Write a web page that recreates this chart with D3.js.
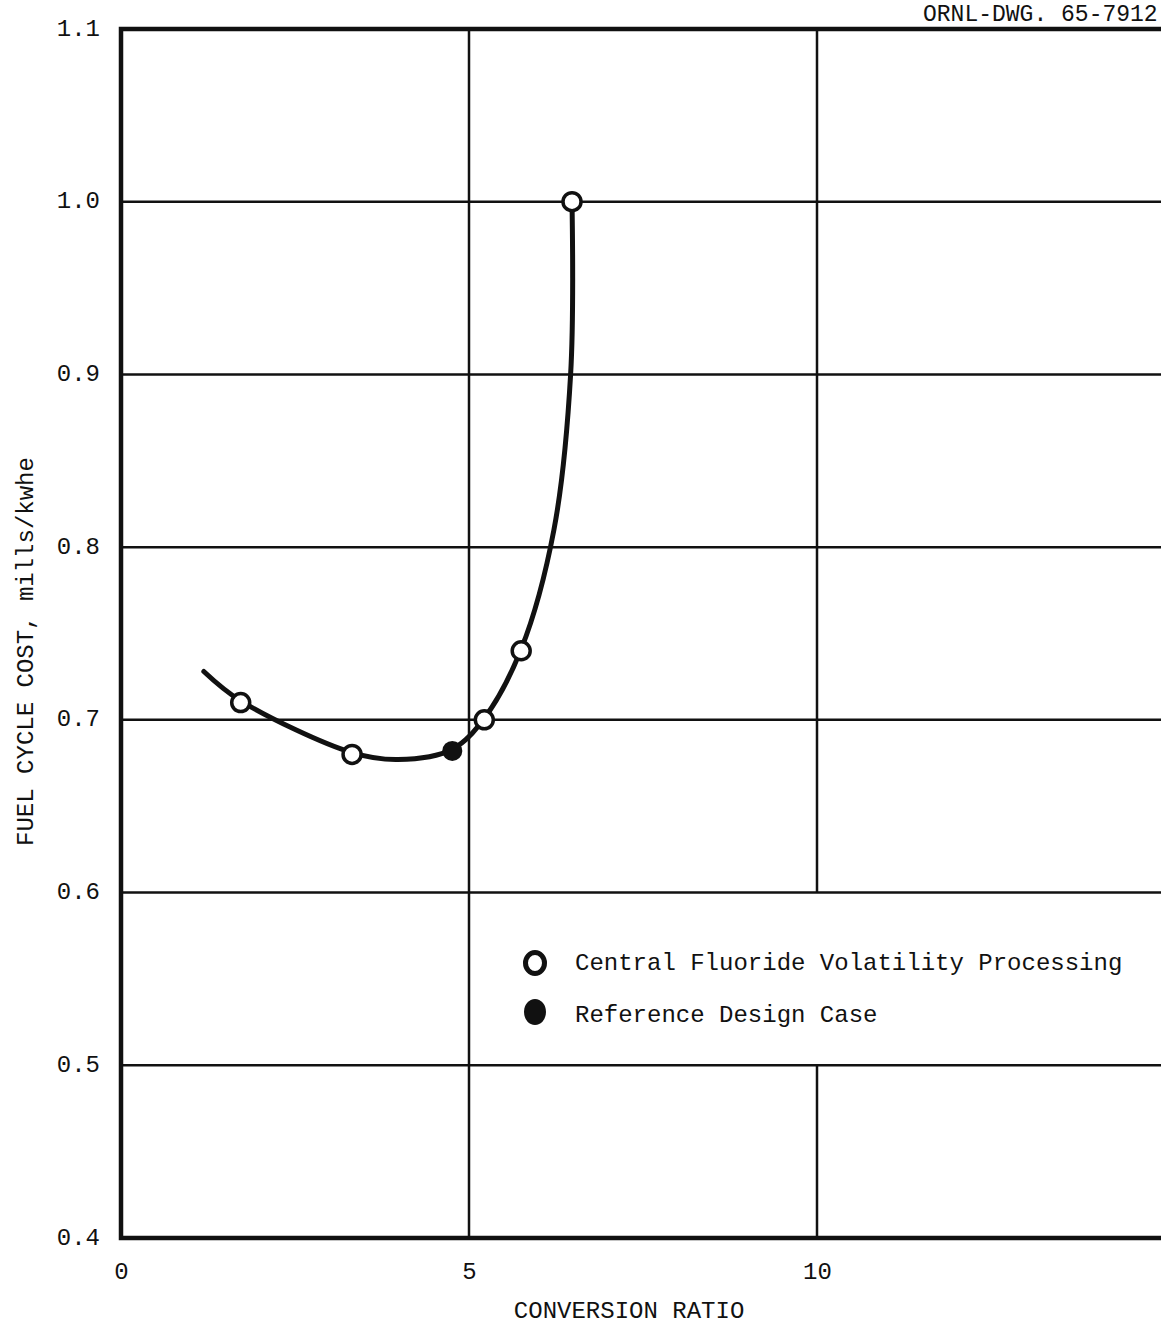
<!DOCTYPE html>
<html>
<head>
<meta charset="utf-8">
<script src="https://cdn.jsdelivr.net/npm/d3@7"></script>
<style>
  body { margin: 0; background: #fff; }
  text { font-family: "Liberation Mono", "DejaVu Sans Mono", monospace; fill: #111; }
</style>
</head>
<body>
<div id="chart"></div>
<script>
/* data */
var curveX = [1.19, 1.72, 3.32, 3.98, 4.76, 5.22, 5.75, 6.22, 6.46, 6.48];
var curveY = [0.728, 0.711, 0.681, 0.677, 0.683, 0.701, 0.741, 0.81, 0.90, 1.0];

var openX = [1.72, 3.32, 5.22, 5.75, 6.48];
var openY = [0.71, 0.68, 0.70, 0.74, 1.0];

var refX = [4.76];
var refY = [0.682];

var xTicks = [0, 5, 10];
var yTicks = [0.4, 0.5, 0.6, 0.7, 0.8, 0.9, 1.0, 1.1];
var xGrid = [5, 10];
var yGrid = [0.5, 0.6, 0.7, 0.8, 0.9, 1.0];

var legendLabels = ["Central Fluoride Volatility Processing", "Reference Design Case"];
var drawingNo = "ORNL-DWG. 65-7912";

// set the dimensions and margins of the graph
var margin = { top: 29, right: 0, bottom: 86, left: 121 },
    width = 1044,
    height = 1209;

var svg = d3.select("#chart")
    .append("svg")
    .attr("width", 1161)
    .attr("height", 1324)
    .append("g")
    .attr("transform", "translate(" + margin.left + "," + margin.top + ")");

var x = d3.scaleLinear().domain([0, 15]).range([0, width]);
var y = d3.scaleLinear().domain([0.4, 1.1]).range([height, 0]);

// grid lines (the 10 line is broken where the legend sits)
svg.selectAll(".hgrid")
    .data(yGrid)
    .enter().append("line")
    .attr("x1", 0).attr("x2", width)
    .attr("y1", function (d) { return y(d) })
    .attr("y2", function (d) { return y(d) })
    .attr("stroke", "#111")
    .attr("stroke-width", 2.5);

var vsegs = [];
xGrid.forEach(function (v) {
    if (v === 10) {
        vsegs.push([v, 1.1, 0.6]);
        vsegs.push([v, 0.5, 0.4]);
    } else {
        vsegs.push([v, 1.1, 0.4]);
    }
});
svg.selectAll(".vgrid")
    .data(vsegs)
    .enter().append("line")
    .attr("x1", function (d) { return x(d[0]) })
    .attr("x2", function (d) { return x(d[0]) })
    .attr("y1", function (d) { return y(d[1]) })
    .attr("y2", function (d) { return y(d[2]) })
    .attr("stroke", "#111")
    .attr("stroke-width", 2.5);

// frame: left, top, bottom
svg.append("path")
    .attr("d", "M" + width + "," + y(1.1) + "H" + x(0) + "V" + y(0.4) + "H" + width)
    .attr("fill", "none")
    .attr("stroke", "#111")
    .attr("stroke-width", 4.5);

// axes
var yAxis = svg.append("g")
    .call(d3.axisLeft(y).tickValues(yTicks).tickSize(0).tickPadding(21).tickFormat(d3.format(".1f")));
yAxis.select(".domain").remove();
yAxis.selectAll("text")
    .attr("dy", "0.25em")
    .style("font-size", "24px")
    .style("font-family", "Liberation Mono, monospace");

var xAxis = svg.append("g")
    .attr("transform", "translate(0," + height + ")")
    .call(d3.axisBottom(x).tickValues(xTicks).tickSize(0).tickPadding(24).tickFormat(d3.format("d")));
xAxis.select(".domain").remove();
xAxis.selectAll("text")
    .style("font-size", "24px")
    .style("font-family", "Liberation Mono, monospace");

// curve
var pts = curveX.map(function (v, i) { return { x: v, y: curveY[i] } });
svg.append("path")
    .datum(pts)
    .attr("fill", "none")
    .attr("stroke", "#111")
    .attr("stroke-width", 5)
    .attr("stroke-linecap", "round")
    .attr("d", d3.line()
        .x(function (d) { return x(d.x) })
        .y(function (d) { return y(d.y) })
        .curve(d3.curveCatmullRom.alpha(0.5))
    );

// open markers
svg.selectAll(".open")
    .data(openX.map(function (v, i) { return { x: v, y: openY[i] } }))
    .enter().append("circle")
    .attr("cx", function (d) { return x(d.x) })
    .attr("cy", function (d) { return y(d.y) })
    .attr("r", 9)
    .attr("fill", "#fff")
    .attr("stroke", "#111")
    .attr("stroke-width", 3.5);

// reference design case
svg.selectAll(".ref")
    .data(refX.map(function (v, i) { return { x: v, y: refY[i] } }))
    .enter().append("circle")
    .attr("cx", function (d) { return x(d.x) })
    .attr("cy", function (d) { return y(d.y) })
    .attr("r", 10)
    .attr("fill", "#111");

// legend
var lg = svg.append("g").attr("transform", "translate(414,934)");
lg.append("ellipse")
    .attr("cx", 0).attr("cy", 0).attr("rx", 9.5).attr("ry", 10.5)
    .attr("fill", "#fff").attr("stroke", "#111").attr("stroke-width", 5);
lg.append("ellipse")
    .attr("cx", 0).attr("cy", 49).attr("rx", 11).attr("ry", 13)
    .attr("fill", "#111");
lg.selectAll(".lt")
    .data(legendLabels)
    .enter().append("text")
    .attr("x", 40)
    .attr("y", function (d, i) { return 7 + i * 52 })
    .style("font-size", "24px")
    .text(function (d) { return d });

// axis titles
svg.append("text")
    .attr("x", x(7.3))
    .attr("y", height + 80)
    .attr("text-anchor", "middle")
    .style("font-size", "24px")
    .text("CONVERSION RATIO");

svg.append("text")
    .attr("transform", "translate(-88," + (y(0.75) + 18) + ") rotate(-90)")
    .attr("text-anchor", "middle")
    .style("font-size", "24px")
    .text("FUEL CYCLE COST, mills/kwhe");

svg.append("text")
    .attr("x", 802)
    .attr("y", -8)
    .style("font-size", "23px")
    .text(drawingNo);
</script>
</body>
</html>
